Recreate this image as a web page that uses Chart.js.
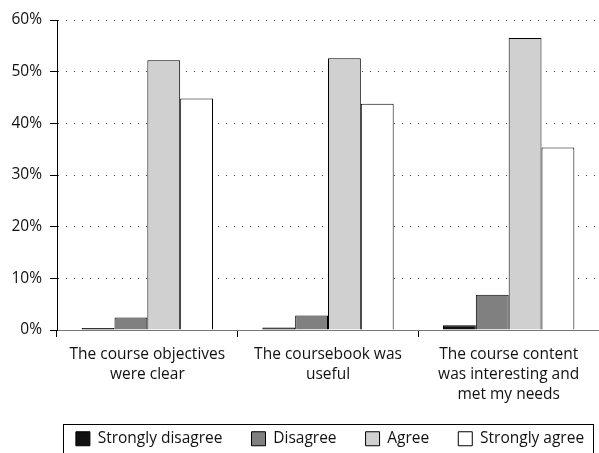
<!DOCTYPE html>
<html>
<head>
<meta charset="utf-8">
<script src="https://cdn.jsdelivr.net/npm/chart.js@4/dist/chart.umd.min.js"></script>
<style>
  html, body { margin: 0; padding: 0; background: #fff; }
  #wrap { width: 599px; height: 453px; position: relative; }
</style>
</head>
<body>
<div id="wrap"><canvas id="c" width="599" height="453"></canvas></div>
<script>
const categories = [
    ['The course objectives', 'were clear'],
    ['The coursebook was', 'useful'],
    ['The course content', 'was interesting and', 'met my needs']
];
const stronglyDisagree = [0.4, 0.5, 0.9];
const disagree = [2.4, 2.8, 6.8];
const agree = [52.2, 52.6, 56.5];
const stronglyAgree = [44.8, 43.8, 35.3];
const yTicks = [0, 10, 20, 30, 40, 50, 60];

const FONT = "'Open Sans', 'DejaVu Sans', sans-serif";
const LEGEND_PAD = 29;

// move the legend under the plot area and box it in, like the original
const legendBox = {
    id: 'legendBox',
    afterLayout(chart) {
        const lg = chart.legend;
        if (!lg || !lg.lineWidths) return;
        const span = lg.lineWidths[0] - LEGEND_PAD;
        const start = (lg.left + LEGEND_PAD + lg.right - lg.lineWidths[0]) / 2;
        const mid = (chart.chartArea.left + chart.chartArea.right) / 2 + 2;
        const shift = (mid - span / 2) - start;
        lg.left += shift;
        lg.right += shift;
        const ih = lg._itemHeight || 16;
        const dy = (439 - LEGEND_PAD - ih / 2) - lg.top;
        lg.top += dy;
        lg.bottom += dy;
    },
    afterDraw(chart) {
        const lg = chart.legend;
        if (!lg || !lg.legendHitBoxes.length) return;
        const boxes = lg.legendHitBoxes;
        const left = Math.min(...boxes.map(b => b.left)) - 13;
        const right = Math.max(...boxes.map(b => b.left + b.width)) + 9;
        const ctx = chart.ctx;
        ctx.save();
        ctx.strokeStyle = '#000';
        ctx.lineWidth = 1;
        ctx.strokeRect(Math.round(left) + 0.5, 424.5, Math.round(right - left), 40);
        ctx.restore();
    }
};

function makeSet(label, data, color) {
    return {
        label: label,
        data: data,
        backgroundColor: color,
        borderColor: '#000',
        borderWidth: 1,
        barPercentage: 1,
        categoryPercentage: 0.727
    };
}

new Chart(document.getElementById('c').getContext('2d'), {
    type: 'bar',
    data: {
        labels: categories,
        datasets: [
            makeSet('Strongly disagree', stronglyDisagree, '#111111'),
            makeSet('Disagree', disagree, '#808080'),
            makeSet('Agree', agree, '#d0d0d0'),
            makeSet('Strongly agree', stronglyAgree, '#ffffff')
        ]
    },
    options: {
        responsive: false,
        animation: false,
        layout: {
            padding: { top: 20, right: 0, left: 0, bottom: -12 }
        },
        plugins: {
            tooltip: { enabled: false },
            legend: {
                position: 'bottom',
                fullSize: true,
                labels: {
                    font: { family: FONT, size: 15.5 },
                    color: '#111',
                    boxWidth: 14,
                    boxHeight: 14,
                    padding: LEGEND_PAD,
                    useBorderRadius: false
                }
            }
        },
        scales: {
            x: {
                grid: {
                    offset: true,
                    drawOnChartArea: false,
                    drawTicks: true,
                    tickLength: 7,
                    tickColor: '#000'
                },
                border: { display: true, color: '#777', width: 1 },
                ticks: {
                    font: { family: FONT, size: 15.5, lineHeight: 1.29 },
                    color: '#111',
                    padding: 8,
                    maxRotation: 0,
                    autoSkip: false
                },
                afterFit(scale) { scale.height = 80.5; }
            },
            y: {
                min: 0,
                max: 60,
                afterBuildTicks(scale) {
                    scale.ticks = yTicks.map(v => ({ value: v }));
                },
                grid: {
                    color: '#444',
                    lineWidth: 1,
                    tickLength: 7,
                    tickColor: '#000',
                    tickBorderDash: []
                },
                border: { display: true, color: '#000', width: 1, dash: [1, 7] },
                ticks: {
                    font: { family: FONT, size: 15.5 },
                    color: '#111',
                    padding: 8,
                    callback: v => v + '%'
                },
                afterFit(scale) { scale.width = 57; }
            }
        }
    },
    plugins: [legendBox]
});
</script>
</body>
</html>
